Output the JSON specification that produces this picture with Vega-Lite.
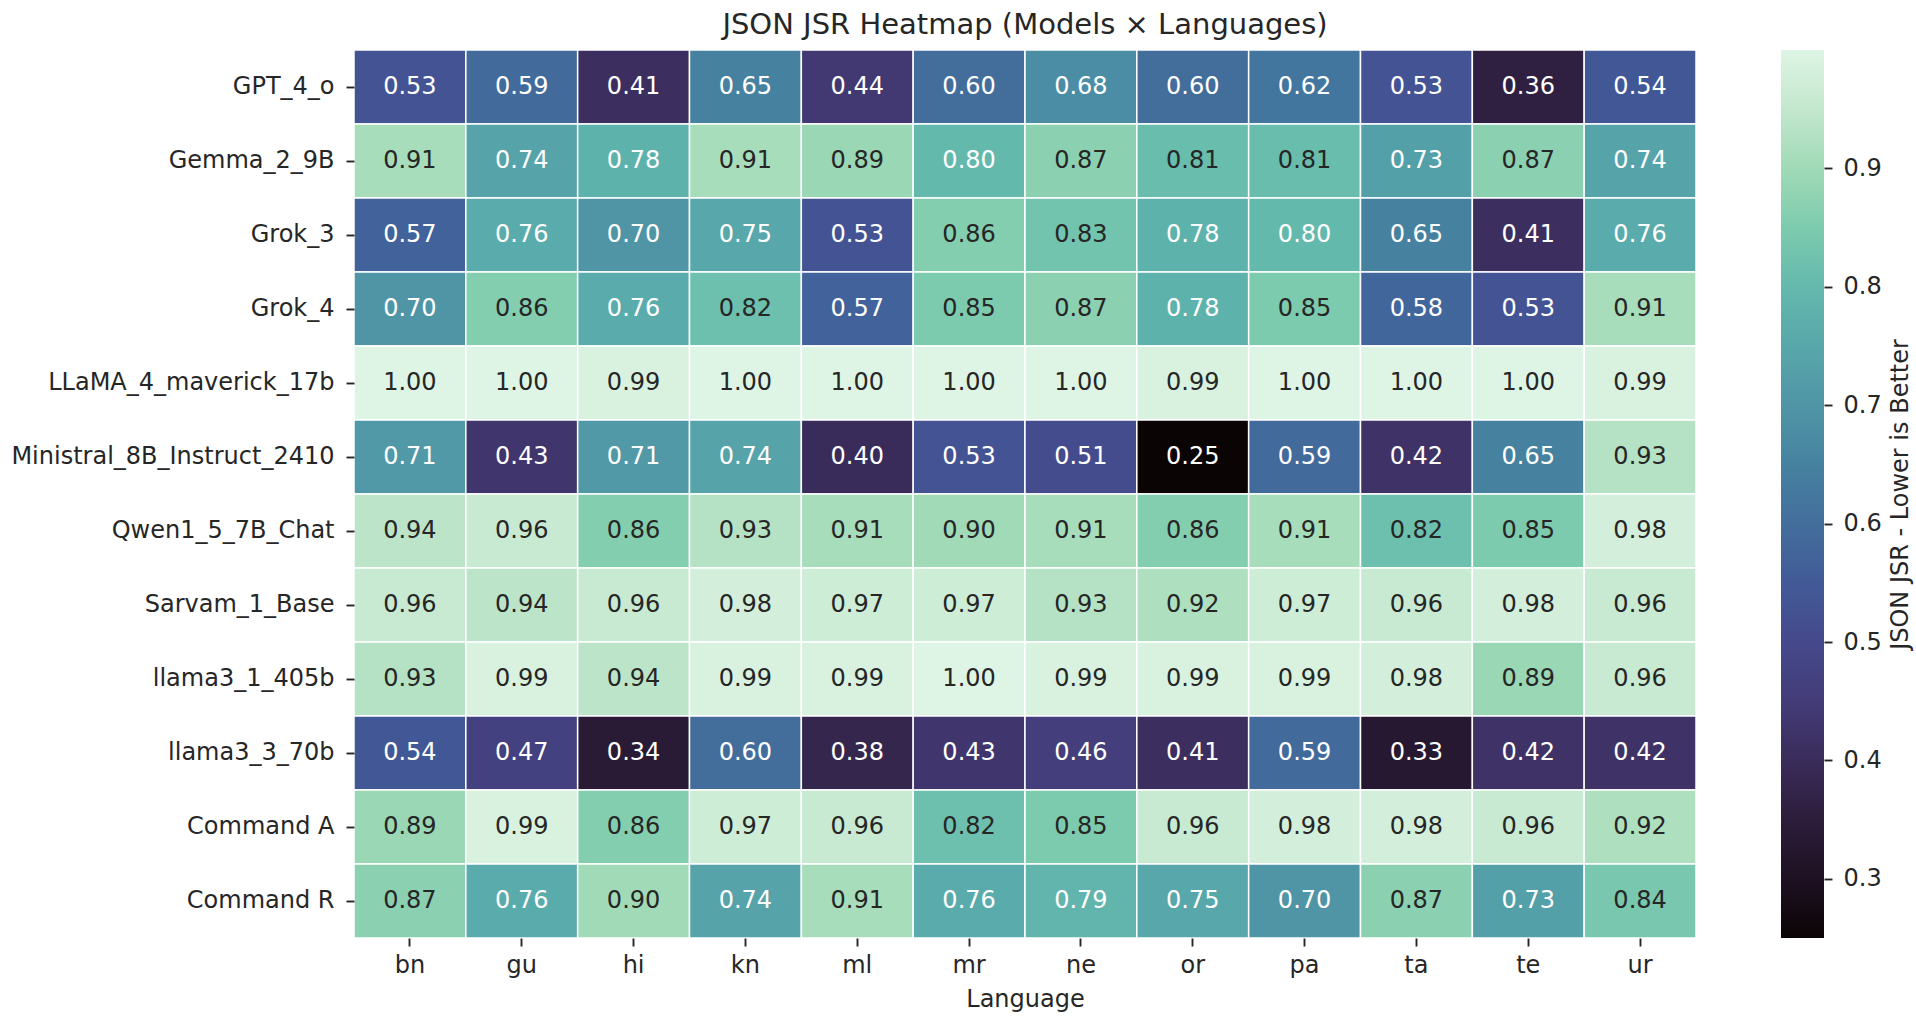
{
  "$schema": "https://vega.github.io/schema/vega-lite/v6.json",
  "width": 1342,
  "height": 888,
  "autosize": {"type": "none"},
  "padding": {"left": 354, "top": 50, "right": 220, "bottom": 82},
  "background": "white",
  "title": {"text": "JSON JSR Heatmap (Models × Languages)", "fontSize": 29, "font": "DejaVu Sans", "fontWeight": "normal", "color": "#262626", "anchor": "middle", "frame": "group", "offset": 7},
  "config": {
    "view": {"stroke": null},
    "font": "DejaVu Sans",
    "axis": {"labelFont": "DejaVu Sans", "labelFontSize": 24, "labelColor": "#262626", "tickColor": "#262626", "tickWidth": 1.9, "tickSize": 8, "domain": false, "grid": false, "titleFont": "DejaVu Sans", "titleFontSize": 24, "titleColor": "#262626", "titleFontWeight": "normal", "labelLimit": 1000}
  },
  "data": {"values": [
    {"m":"GPT_4_o","l":"bn","v":0.53},{"m":"GPT_4_o","l":"gu","v":0.59},{"m":"GPT_4_o","l":"hi","v":0.41},{"m":"GPT_4_o","l":"kn","v":0.65},{"m":"GPT_4_o","l":"ml","v":0.44},{"m":"GPT_4_o","l":"mr","v":0.60},{"m":"GPT_4_o","l":"ne","v":0.68},{"m":"GPT_4_o","l":"or","v":0.60},{"m":"GPT_4_o","l":"pa","v":0.62},{"m":"GPT_4_o","l":"ta","v":0.53},{"m":"GPT_4_o","l":"te","v":0.36},{"m":"GPT_4_o","l":"ur","v":0.54},
    {"m":"Gemma_2_9B","l":"bn","v":0.91},{"m":"Gemma_2_9B","l":"gu","v":0.74},{"m":"Gemma_2_9B","l":"hi","v":0.78},{"m":"Gemma_2_9B","l":"kn","v":0.91},{"m":"Gemma_2_9B","l":"ml","v":0.89},{"m":"Gemma_2_9B","l":"mr","v":0.80},{"m":"Gemma_2_9B","l":"ne","v":0.87},{"m":"Gemma_2_9B","l":"or","v":0.81},{"m":"Gemma_2_9B","l":"pa","v":0.81},{"m":"Gemma_2_9B","l":"ta","v":0.73},{"m":"Gemma_2_9B","l":"te","v":0.87},{"m":"Gemma_2_9B","l":"ur","v":0.74},
    {"m":"Grok_3","l":"bn","v":0.57},{"m":"Grok_3","l":"gu","v":0.76},{"m":"Grok_3","l":"hi","v":0.70},{"m":"Grok_3","l":"kn","v":0.75},{"m":"Grok_3","l":"ml","v":0.53},{"m":"Grok_3","l":"mr","v":0.86},{"m":"Grok_3","l":"ne","v":0.83},{"m":"Grok_3","l":"or","v":0.78},{"m":"Grok_3","l":"pa","v":0.80},{"m":"Grok_3","l":"ta","v":0.65},{"m":"Grok_3","l":"te","v":0.41},{"m":"Grok_3","l":"ur","v":0.76},
    {"m":"Grok_4","l":"bn","v":0.70},{"m":"Grok_4","l":"gu","v":0.86},{"m":"Grok_4","l":"hi","v":0.76},{"m":"Grok_4","l":"kn","v":0.82},{"m":"Grok_4","l":"ml","v":0.57},{"m":"Grok_4","l":"mr","v":0.85},{"m":"Grok_4","l":"ne","v":0.87},{"m":"Grok_4","l":"or","v":0.78},{"m":"Grok_4","l":"pa","v":0.85},{"m":"Grok_4","l":"ta","v":0.58},{"m":"Grok_4","l":"te","v":0.53},{"m":"Grok_4","l":"ur","v":0.91},
    {"m":"LLaMA_4_maverick_17b","l":"bn","v":1.00},{"m":"LLaMA_4_maverick_17b","l":"gu","v":1.00},{"m":"LLaMA_4_maverick_17b","l":"hi","v":0.99},{"m":"LLaMA_4_maverick_17b","l":"kn","v":1.00},{"m":"LLaMA_4_maverick_17b","l":"ml","v":1.00},{"m":"LLaMA_4_maverick_17b","l":"mr","v":1.00},{"m":"LLaMA_4_maverick_17b","l":"ne","v":1.00},{"m":"LLaMA_4_maverick_17b","l":"or","v":0.99},{"m":"LLaMA_4_maverick_17b","l":"pa","v":1.00},{"m":"LLaMA_4_maverick_17b","l":"ta","v":1.00},{"m":"LLaMA_4_maverick_17b","l":"te","v":1.00},{"m":"LLaMA_4_maverick_17b","l":"ur","v":0.99},
    {"m":"Ministral_8B_Instruct_2410","l":"bn","v":0.71},{"m":"Ministral_8B_Instruct_2410","l":"gu","v":0.43},{"m":"Ministral_8B_Instruct_2410","l":"hi","v":0.71},{"m":"Ministral_8B_Instruct_2410","l":"kn","v":0.74},{"m":"Ministral_8B_Instruct_2410","l":"ml","v":0.40},{"m":"Ministral_8B_Instruct_2410","l":"mr","v":0.53},{"m":"Ministral_8B_Instruct_2410","l":"ne","v":0.51},{"m":"Ministral_8B_Instruct_2410","l":"or","v":0.25},{"m":"Ministral_8B_Instruct_2410","l":"pa","v":0.59},{"m":"Ministral_8B_Instruct_2410","l":"ta","v":0.42},{"m":"Ministral_8B_Instruct_2410","l":"te","v":0.65},{"m":"Ministral_8B_Instruct_2410","l":"ur","v":0.93},
    {"m":"Qwen1_5_7B_Chat","l":"bn","v":0.94},{"m":"Qwen1_5_7B_Chat","l":"gu","v":0.96},{"m":"Qwen1_5_7B_Chat","l":"hi","v":0.86},{"m":"Qwen1_5_7B_Chat","l":"kn","v":0.93},{"m":"Qwen1_5_7B_Chat","l":"ml","v":0.91},{"m":"Qwen1_5_7B_Chat","l":"mr","v":0.90},{"m":"Qwen1_5_7B_Chat","l":"ne","v":0.91},{"m":"Qwen1_5_7B_Chat","l":"or","v":0.86},{"m":"Qwen1_5_7B_Chat","l":"pa","v":0.91},{"m":"Qwen1_5_7B_Chat","l":"ta","v":0.82},{"m":"Qwen1_5_7B_Chat","l":"te","v":0.85},{"m":"Qwen1_5_7B_Chat","l":"ur","v":0.98},
    {"m":"Sarvam_1_Base","l":"bn","v":0.96},{"m":"Sarvam_1_Base","l":"gu","v":0.94},{"m":"Sarvam_1_Base","l":"hi","v":0.96},{"m":"Sarvam_1_Base","l":"kn","v":0.98},{"m":"Sarvam_1_Base","l":"ml","v":0.97},{"m":"Sarvam_1_Base","l":"mr","v":0.97},{"m":"Sarvam_1_Base","l":"ne","v":0.93},{"m":"Sarvam_1_Base","l":"or","v":0.92},{"m":"Sarvam_1_Base","l":"pa","v":0.97},{"m":"Sarvam_1_Base","l":"ta","v":0.96},{"m":"Sarvam_1_Base","l":"te","v":0.98},{"m":"Sarvam_1_Base","l":"ur","v":0.96},
    {"m":"llama3_1_405b","l":"bn","v":0.93},{"m":"llama3_1_405b","l":"gu","v":0.99},{"m":"llama3_1_405b","l":"hi","v":0.94},{"m":"llama3_1_405b","l":"kn","v":0.99},{"m":"llama3_1_405b","l":"ml","v":0.99},{"m":"llama3_1_405b","l":"mr","v":1.00},{"m":"llama3_1_405b","l":"ne","v":0.99},{"m":"llama3_1_405b","l":"or","v":0.99},{"m":"llama3_1_405b","l":"pa","v":0.99},{"m":"llama3_1_405b","l":"ta","v":0.98},{"m":"llama3_1_405b","l":"te","v":0.89},{"m":"llama3_1_405b","l":"ur","v":0.96},
    {"m":"llama3_3_70b","l":"bn","v":0.54},{"m":"llama3_3_70b","l":"gu","v":0.47},{"m":"llama3_3_70b","l":"hi","v":0.34},{"m":"llama3_3_70b","l":"kn","v":0.60},{"m":"llama3_3_70b","l":"ml","v":0.38},{"m":"llama3_3_70b","l":"mr","v":0.43},{"m":"llama3_3_70b","l":"ne","v":0.46},{"m":"llama3_3_70b","l":"or","v":0.41},{"m":"llama3_3_70b","l":"pa","v":0.59},{"m":"llama3_3_70b","l":"ta","v":0.33},{"m":"llama3_3_70b","l":"te","v":0.42},{"m":"llama3_3_70b","l":"ur","v":0.42},
    {"m":"Command A","l":"bn","v":0.89},{"m":"Command A","l":"gu","v":0.99},{"m":"Command A","l":"hi","v":0.86},{"m":"Command A","l":"kn","v":0.97},{"m":"Command A","l":"ml","v":0.96},{"m":"Command A","l":"mr","v":0.82},{"m":"Command A","l":"ne","v":0.85},{"m":"Command A","l":"or","v":0.96},{"m":"Command A","l":"pa","v":0.98},{"m":"Command A","l":"ta","v":0.98},{"m":"Command A","l":"te","v":0.96},{"m":"Command A","l":"ur","v":0.92},
    {"m":"Command R","l":"bn","v":0.87},{"m":"Command R","l":"gu","v":0.76},{"m":"Command R","l":"hi","v":0.90},{"m":"Command R","l":"kn","v":0.74},{"m":"Command R","l":"ml","v":0.91},{"m":"Command R","l":"mr","v":0.76},{"m":"Command R","l":"ne","v":0.79},{"m":"Command R","l":"or","v":0.75},{"m":"Command R","l":"pa","v":0.70},{"m":"Command R","l":"ta","v":0.87},{"m":"Command R","l":"te","v":0.73},{"m":"Command R","l":"ur","v":0.84}
  ]},
  "layer": [
    {
      "mark": {"type": "rect", "stroke": "white", "strokeWidth": 1.5},
      "encoding": {
        "x": {"field": "l", "type": "nominal", "sort": ["bn","gu","hi","kn","ml","mr","ne","or","pa","ta","te","ur"], "scale": {"paddingInner": 0, "paddingOuter": 0}, "axis": {"title": "Language", "labelAngle": 0, "labelPadding": 7, "titlePadding": 10}},
        "y": {"field": "m", "type": "nominal", "sort": ["GPT_4_o","Gemma_2_9B","Grok_3","Grok_4","LLaMA_4_maverick_17b","Ministral_8B_Instruct_2410","Qwen1_5_7B_Chat","Sarvam_1_Base","llama3_1_405b","llama3_3_70b","Command A","Command R"], "scale": {"paddingInner": 0, "paddingOuter": 0}, "axis": {"title": null, "orient": "left", "labelPadding": 12}},
        "color": {"field": "v", "type": "quantitative",
          "scale": {"domain": [0.25, 0.30, 0.35, 0.40, 0.45, 0.50, 0.55, 0.60, 0.65, 0.70, 0.75, 0.80, 0.85, 0.90, 0.95, 1.0],
                    "range": ["#0B0405", "#1D1122", "#2C1D3B", "#3A2C5A", "#433C78", "#45498C", "#425A97", "#436E9C", "#4682A0", "#5095A6", "#58A7AA", "#64B9AD", "#7DCBAE", "#A0DAB7", "#C3E7CD", "#DEF5E5"]},
          "legend": {"orient": "none", "legendX": 1427, "legendY": 0, "direction": "vertical", "gradientLength": 888, "gradientThickness": 43, "labelExpr": "''", "labelOpacity": 0, "title": null, "padding": 0, "gradientStrokeWidth": 0}}
      }
    },
    {
      "mark": {"type": "text", "fontSize": 24, "font": "DejaVu Sans"},
      "encoding": {
        "x": {"field": "l", "type": "nominal", "sort": ["bn","gu","hi","kn","ml","mr","ne","or","pa","ta","te","ur"]},
        "y": {"field": "m", "type": "nominal", "sort": ["GPT_4_o","Gemma_2_9B","Grok_3","Grok_4","LLaMA_4_maverick_17b","Ministral_8B_Instruct_2410","Qwen1_5_7B_Chat","Sarvam_1_Base","llama3_1_405b","llama3_3_70b","Command A","Command R"], "scale": {"paddingInner": 0, "paddingOuter": 0}, "axis": null},
        "text": {"field": "v", "type": "quantitative", "format": ".2f"},
        "color": {"condition": {"test": "datum.v >= 0.805", "value": "#262626"}, "value": "#ffffff"}
      }
    },
    {
      "mark": {"type": "point", "opacity": 0},
      "encoding": {
        "y": {"field": "v", "type": "quantitative", "scale": {"domain": [0.25, 1.0], "nice": false, "zero": false},
          "axis": {"orient": "right", "offset": 128, "values": [0.3, 0.4, 0.5, 0.6, 0.7, 0.8, 0.9], "format": ".1f", "labelPadding": 11, "title": "JSON JSR - Lower is Better", "titleAngle": -90, "titleAlign": "center", "titleBaseline": "alphabetic", "titleX": 83, "titleY": 444}}
      }
    }
  ],
  "resolve": {"scale": {"y": "independent"}, "axis": {"y": "independent"}}
}
